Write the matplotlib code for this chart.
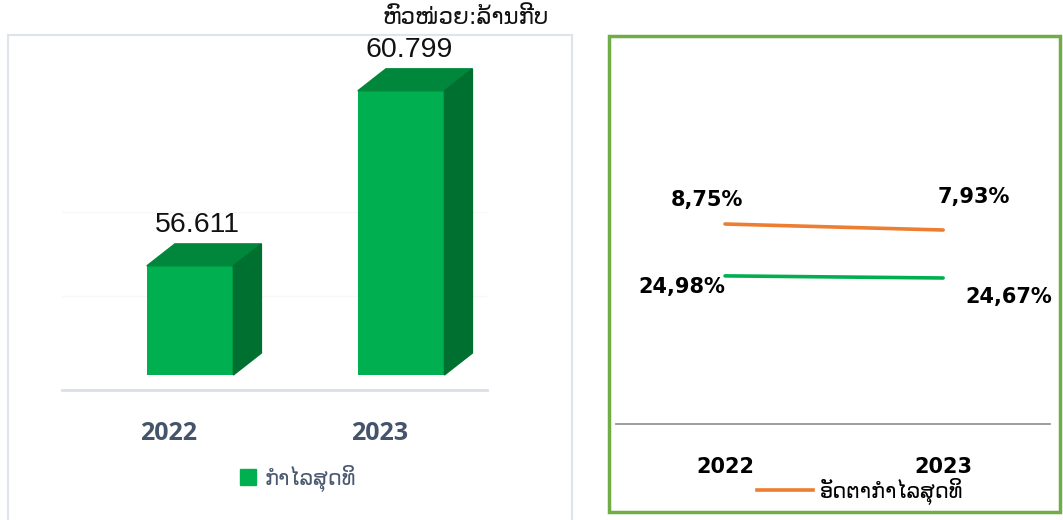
import matplotlib
matplotlib.use("Agg")
import matplotlib.pyplot as plt
from matplotlib.patches import Polygon, Rectangle, Patch
from matplotlib.lines import Line2D

# ---- data ----
years = ["2022", "2023"]
net_profit = [56.611, 60.799]
net_profit_labels = ["56.611", "60.799"]
margin_orange = [8.75, 7.93]
margin_orange_labels = ["8,75%", "7,93%"]
margin_green = [24.98, 24.67]
margin_green_labels = ["24,98%", "24,67%"]
unit_text = "ຫົວໜ່ວຍ:ລ້ານກີບ"
legend_left = "ກຳໄລສຸດທິ"
legend_right = "ອັດຕາກຳໄລສຸດທິ"

W, H = 1063, 520
fig = plt.figure(figsize=(W / 100, H / 100), dpi=100)
fig.patch.set_facecolor("white")

def fx(px):
    return px / W

def fy(py):
    return 1 - py / H

# ---- panel frames ----
fig.patches.append(Rectangle((fx(8), fy(522)), fx(564), fy(35) - fy(522),
                             transform=fig.transFigure, fill=False,
                             edgecolor="#dfe4ea", lw=1.5))
fig.patches.append(Rectangle((fx(609), fy(512)), fx(451), fy(36) - fy(512),
                             transform=fig.transFigure, fill=False,
                             edgecolor="#70ad47", lw=2.5))

# ---- left: 3D bar chart ----
base = 54.0
ax = fig.add_axes([fx(62), fy(390), fx(425), fy(30) - fy(390)])
ax.set_xlim(-0.507, 1.507)
ax.set_ylim(53.641, 62.254)
xs = list(range(len(years)))
off = 0.10
bw = 0.41
dx = 0.133
dy = 0.526
front_c = "#00b050"
top_c = "#00873c"
side_c = "#007030"
ax.set_yticks([55.9, 57.9])
ax.yaxis.grid(True, color="#f8f8f8", lw=1)
ax.set_axisbelow(True)
bars = ax.bar([x + off for x in xs], [v - base for v in net_profit], bottom=base,
              width=bw, color=front_c, zorder=3)
for x, v, lab in zip(xs, net_profit, net_profit_labels):
    x0 = x + off - bw / 2
    x1 = x + off + bw / 2
    ax.add_patch(Polygon([(x0, v), (x1, v), (x1 + dx, v + dy), (x0 + dx, v + dy)],
                         closed=True, color=top_c, zorder=3))
    ax.add_patch(Polygon([(x1, base), (x1, v), (x1 + dx, v + dy), (x1 + dx, base + dy)],
                         closed=True, color=side_c, zorder=3))
    ax.annotate(lab, (x + off + dx / 2 - 0.03, v + dy), xytext=(0, 4),
                textcoords="offset points", ha="center", va="bottom",
                fontsize=20.5, family="Liberation Sans", color="#111111")
for s in ["top", "left", "right"]:
    ax.spines[s].set_visible(False)
ax.spines["bottom"].set_color("#dadfe7")
ax.spines["bottom"].set_linewidth(2)
ax.set_xticks(xs)
ax.set_xticklabels(years, fontsize=18, fontweight="bold", family="Open Sans",
                   color="#44546a")
ax.tick_params(axis="x", length=0, pad=22)
ax.tick_params(axis="y", length=0, labelleft=False)
ax.legend(handles=[Patch(color=front_c, label=legend_left)], loc="center",
          bbox_to_anchor=(fx(298), fy(478)), bbox_transform=fig.transFigure,
          frameon=False, handlelength=0.8, handleheight=0.8,
          handletextpad=0.4, labelcolor="#4a5870",
          prop={"family": "DejaVu Sans", "size": 15})

fig.text(fx(466), fy(18), unit_text, ha="center", va="center", fontsize=16.5,
         family="DejaVu Sans", color="#111111")

# ---- right: line chart ----
ax2 = fig.add_axes([fx(616), fy(424), fx(434), fy(35) - fy(424)])
ax2.set_xlim(-0.5, 1.49)
ax2.set_ylim(-18.57, 34.57)
ax2.patch.set_alpha(0)
ax3 = ax2.twinx()
ax3.set_ylim(3.2, 60.4)
l1, = ax2.plot(xs, margin_orange, color="#ed7d31", lw=2.6, solid_capstyle="round")
ax3.plot(xs, margin_green, color="#00b050", lw=2.6, solid_capstyle="round")
bold = dict(fontsize=15, fontweight="bold", family="DejaVu Sans", color="black")
ax2.annotate(margin_orange_labels[0], (xs[0], margin_orange[0]), xytext=(-13, 17),
             textcoords="offset points", ha="center", va="center", **bold)
ax2.annotate(margin_orange_labels[1], (xs[1], margin_orange[1]), xytext=(22, 24),
             textcoords="offset points", ha="center", va="center", **bold)
ax3.annotate(margin_green_labels[0], (xs[0], margin_green[0]), xytext=(-31, -8),
             textcoords="offset points", ha="center", va="center", **bold)
ax3.annotate(margin_green_labels[1], (xs[1], margin_green[1]), xytext=(47, -14),
             textcoords="offset points", ha="center", va="center", **bold)
for a in (ax2, ax3):
    for s in ["top", "left", "right"]:
        a.spines[s].set_visible(False)
    a.tick_params(axis="y", length=0, labelleft=False, labelright=False)
ax3.spines["bottom"].set_visible(False)
ax2.spines["bottom"].set_color("#8c8c8c")
ax2.spines["bottom"].set_linewidth(1.2)
ax2.set_xticks(xs)
ax2.set_xticklabels(years, **bold)
ax2.tick_params(axis="x", length=0, pad=24)
ax2.legend(handles=[Line2D([], [], color="#ed7d31", lw=2.6, label=legend_right)],
           loc="center", bbox_to_anchor=(fx(860), fy(491)),
           bbox_transform=fig.transFigure, frameon=False, handlelength=2.7,
           handletextpad=0.3, prop={"family": "DejaVu Sans", "size": 15})

fig.savefig("out.png", dpi=100)
